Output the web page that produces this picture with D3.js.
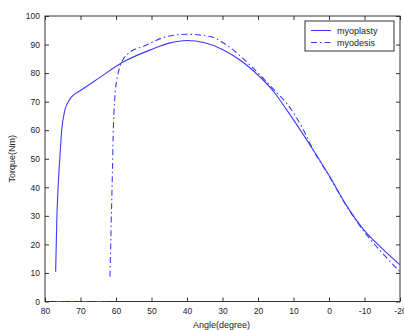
<!DOCTYPE html>
<html>
<head>
<meta charset="utf-8">
<script src="https://cdn.jsdelivr.net/npm/d3@7"></script>
<style>
  body { margin: 0; background: #fff; }
  svg { display: block; font-family: "Liberation Sans", Arial, sans-serif; }
</style>
</head>
<body>
<svg id="chart" width="404" height="330"></svg>
<script>
// data
const xTicks = [80, 70, 60, 50, 40, 30, 20, 10, 0, -10, -20];
const yTicks = [0, 10, 20, 30, 40, 50, 60, 70, 80, 90, 100];

const plastyAngle  = [77, 76.7, 76.3, 75.8, 75.3, 74.4, 73.2, 72, 70, 64.5, 58.4, 50, 45, 40, 35, 30, 25, 21.4, 15, 11.9, 7, 4.4, 0, -5, -10, -15, -20];
const plastyTorque = [10.4, 27.4, 40.2, 50.7, 60, 67, 70.5, 72.3, 73.9, 78.5, 83.6, 88.3, 90.5, 91.4, 90.6, 88.3, 84.5, 80.9, 72.6, 67.1, 58, 53, 44.2, 33.5, 24.8, 18.5, 12.8];

const desisZeroAngle  = [77, 61.8];
const desisZeroTorque = [0, 0];
const desisAngle  = [61.7, 61.4, 61.0, 60.8, 60.3, 59.7, 58.9, 56.5, 52, 45.7, 40.1, 33.5, 28.8, 25, 19.4, 15, 11.9, 7.2, 4.4, 0, -5, -10, -15, -20];
const desisTorque = [8.7, 25, 46, 58, 72, 78, 82.2, 86.9, 89.5, 92.8, 93.6, 92.8, 89.8, 86, 79.3, 73.5, 69.4, 60.1, 53, 44, 33.3, 24.3, 17, 10.4];

const series = ["myoplasty", "myodesis"];

const svg = d3.select("#chart");
const margin = {left: 45, right: 4, top: 16, bottom: 28.5};
const W = +svg.attr("width"), H = +svg.attr("height");
const plotW = W - margin.left - margin.right;
const plotH = H - margin.top - margin.bottom;

const g = svg.append("g").attr("transform", `translate(${margin.left},${margin.top})`);

const x = d3.scaleLinear().domain([80, -20]).range([0, plotW]);
const y = d3.scaleLinear().domain([0, 100]).range([plotH, 0]);

const axisColor = "#333";
const blue = "#3b3bff";
const fmt = d => String(d); // plain hyphen minus like the original

// axes, matlab style: inward ticks on all four sides
function styleAxis(sel) {
    sel.select(".domain").remove();
    sel.selectAll("line").attr("stroke", axisColor);
    sel.selectAll("text").attr("fill", "#222").style("font-size", "8.5px");
}
g.append("g").attr("transform", `translate(0,${plotH})`)
    .call(d3.axisBottom(x).tickValues(xTicks).tickSize(-4).tickPadding(6).tickFormat(fmt))
    .call(styleAxis);
g.append("g")
    .call(d3.axisTop(x).tickValues(xTicks).tickSize(-4).tickFormat(""))
    .call(styleAxis);
g.append("g")
    .call(d3.axisLeft(y).tickValues(yTicks).tickSize(-4).tickPadding(5).tickFormat(fmt))
    .call(styleAxis);
g.append("g").attr("transform", `translate(${plotW},0)`)
    .call(d3.axisRight(y).tickValues(yTicks).tickSize(-4).tickFormat(""))
    .call(styleAxis);

g.append("rect")
    .attr("width", plotW).attr("height", plotH)
    .attr("fill", "none").attr("stroke", axisColor).attr("stroke-width", 1);

// curves
const line = d3.line()
    .x(d => x(d[0]))
    .y(d => y(d[1]))
    .curve(d3.curveMonotoneX);

const plasty = d3.zip(plastyAngle, plastyTorque);
const desisZero = d3.zip(desisZeroAngle, desisZeroTorque);
const desis = d3.zip(desisAngle, desisTorque);
const dashDot = "6,3,1.5,3";

g.append("path").datum(plasty)
    .attr("fill", "none").attr("stroke", blue).attr("stroke-width", 1.1)
    .attr("d", line);

g.append("path").datum(desisZero)
    .attr("fill", "none").attr("stroke", blue).attr("stroke-width", 1.1)
    .attr("stroke-dasharray", dashDot)
    .attr("d", d3.line().x(d => x(d[0])).y(d => y(d[1])));

g.append("path").datum(desis)
    .attr("fill", "none").attr("stroke", blue).attr("stroke-width", 1.1)
    .attr("stroke-dasharray", dashDot)
    .attr("d", line);

// axis labels
svg.append("text")
    .attr("x", margin.left + plotW / 2 - 1).attr("y", 328)
    .attr("text-anchor", "middle").attr("fill", "#222")
    .style("font-size", "9px")
    .text("Angle(degree)");
svg.append("text")
    .attr("transform", `translate(15,${margin.top + plotH / 2}) rotate(-90)`)
    .attr("text-anchor", "middle").attr("fill", "#222")
    .style("font-size", "9px")
    .text("Torque(Nm)");

// legend
const legend = svg.append("g").attr("transform", "translate(305,21)");
legend.append("rect")
    .attr("width", 89).attr("height", 30)
    .attr("fill", "#fff").attr("stroke", axisColor);
series.forEach((name, i) => {
    const ly = 9.5 + i * 12;
    legend.append("line")
        .attr("x1", 6).attr("x2", 26).attr("y1", ly).attr("y2", ly)
        .attr("stroke", blue).attr("stroke-width", 1.1)
        .attr("stroke-dasharray", i === 1 ? dashDot : null);
    legend.append("text")
        .attr("x", 32).attr("y", ly + 3)
        .attr("fill", "#222").style("font-size", "9px")
        .text(name);
});
</script>
</body>
</html>
